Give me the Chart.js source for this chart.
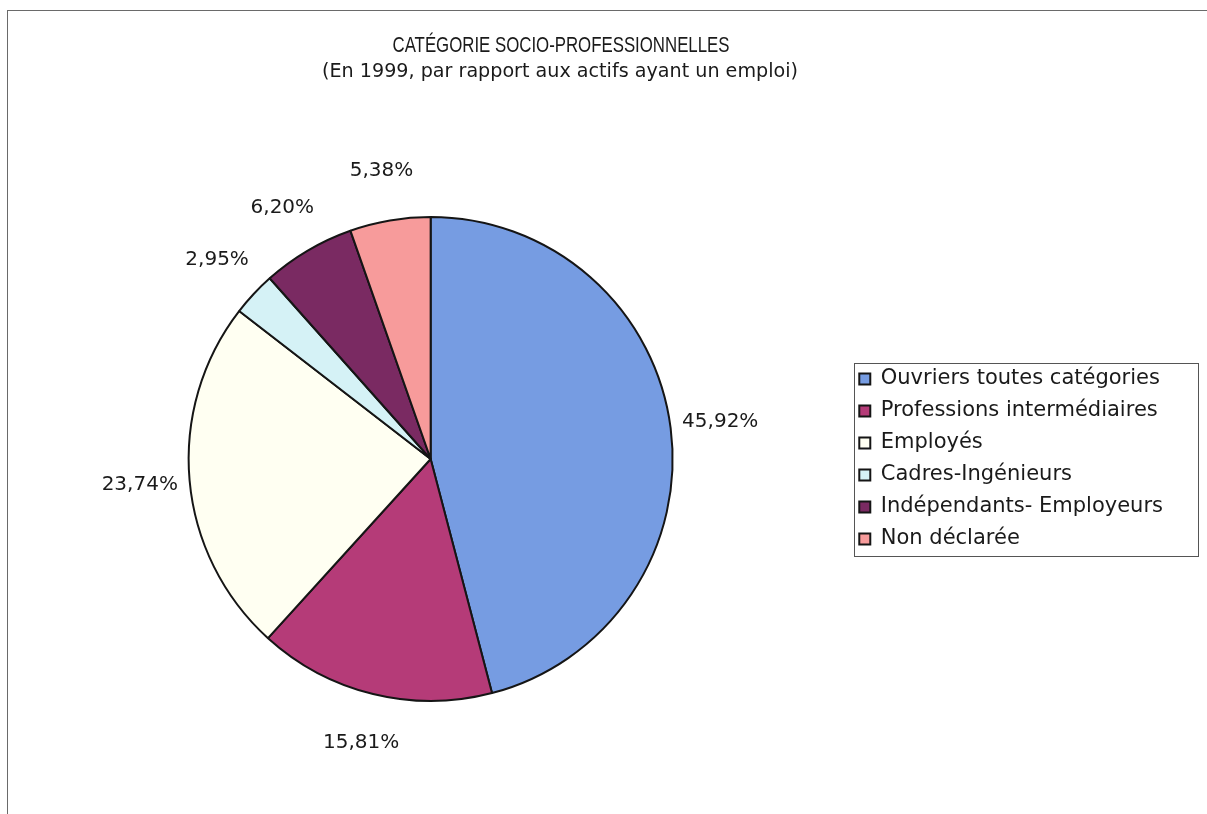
<!DOCTYPE html>
<html>
<head>
<meta charset="utf-8">
<title>Catégorie socio-professionnelles</title>
<script src="https://cdn.jsdelivr.net/npm/chart.js@4"></script>
<style>
  html, body { margin: 0; padding: 0; background: #fff; overflow: hidden; }
  #frame {
    position: absolute; left: 7px; top: 10px; width: 1300px; height: 900px;
    border-left: 1px solid #6a6a6a; border-top: 1px solid #6a6a6a;
  }
  #wrap { position: absolute; left: 0; top: 0; width: 1207px; height: 814px; }
</style>
</head>
<body>
<div id="frame"></div>
<div id="wrap"><canvas id="pieChart"></canvas></div>
<script>
const categories = [
  "Ouvriers toutes catégories",
  "Professions intermédiaires",
  "Employés",
  "Cadres-Ingénieurs",
  "Indépendants- Employeurs",
  "Non déclarée"
];
const shares = [45.92, 15.81, 23.74, 2.95, 6.20, 5.38];
const sliceColors = ["#769ce2", "#b53b78", "#fffff2", "#d5f2f6", "#7a2a62", "#f79b9b"];
const titleLines = [
  "CATÉGORIE SOCIO-PROFESSIONNELLES",
  "(En 1999, par rapport aux actifs ayant un emploi)"
];

function formatPercent(v) {
  return v.toFixed(2).replace(".", ",") + "%";
}

// title is centred over the plot+legend block, not the canvas, so draw it here
const headerTitle = {
  id: "headerTitle",
  afterDraw(chart) {
    const ctx = chart.ctx;
    ctx.save();
    ctx.fillStyle = "#1a1a1a";
    ctx.textAlign = "center";
    ctx.textBaseline = "alphabetic";
    ctx.font = '22px "Liberation Sans Narrow", "Liberation Sans", sans-serif';
    ctx.fillText(titleLines[0], 561, 52, 337);
    ctx.font = '20px "DejaVu Sans", sans-serif';
    ctx.fillText(titleLines[1], 560, 77, 476);
    ctx.restore();
  }
};

const sliceLabels = {
  id: "sliceLabels",
  afterDatasetsDraw(chart) {
    const ctx = chart.ctx;
    const meta = chart.getDatasetMeta(0);
    ctx.save();
    ctx.fillStyle = "#1a1a1a";
    ctx.font = '20px "DejaVu Sans", sans-serif';
    ctx.textAlign = "center";
    ctx.textBaseline = "middle";
    meta.data.forEach((arc, i) => {
      const p = arc.getProps(["x", "y", "startAngle", "endAngle", "outerRadius"], true);
      const mid = (p.startAngle + p.endAngle) / 2;
      const d = p.outerRadius + 50;
      ctx.fillText(formatPercent(shares[i]), p.x + Math.cos(mid) * d, p.y + Math.sin(mid) * d);
    });
    ctx.restore();
  }
};

// box round the legend, stretched to the right edge like the original
const legendFrame = {
  id: "legendFrame",
  afterDraw(chart) {
    const boxes = chart.legend && chart.legend.legendHitBoxes;
    if(!boxes || !boxes.length) return;
    let left = Infinity, top = Infinity, bottom = -Infinity;
    boxes.forEach(b => {
      left = Math.min(left, b.left);
      top = Math.min(top, b.top);
      bottom = Math.max(bottom, b.top + b.height);
    });
    const right = chart.width - 9;
    const ctx = chart.ctx;
    ctx.save();
    ctx.strokeStyle = "#555";
    ctx.lineWidth = 1;
    ctx.strokeRect(Math.round(left - 5) + 0.5, Math.round(top - 6) + 0.5,
      Math.round(right - left + 5), Math.round(bottom - top + 12));
    ctx.restore();
  }
};

const ctx = document.getElementById("pieChart").getContext("2d");
const chart = new Chart(ctx, {
  type: "pie",
  data: {
    labels: categories,
    datasets: [
      {
        data: shares,
        backgroundColor: sliceColors,
        borderColor: "#151515",
        borderWidth: 2,
      },
    ],
  },
  options: {
    responsive: true,
    maintainAspectRatio: false,
    animation: false,
    layout: {
      padding: { top: 216, bottom: 112, left: 13, right: 34 },
    },
    plugins: {
      legend: {
        position: "right",
        labels: {
          color: "#1a1a1a",
          boxWidth: 11,
          boxHeight: 11,
          padding: 11,
          font: { family: '"DejaVu Sans", sans-serif', size: 21 },
        },
      },
      title: { display: false },
      tooltip: { enabled: false },
    },
  },
  plugins: [headerTitle, sliceLabels, legendFrame],
});
</script>
</body>
</html>
